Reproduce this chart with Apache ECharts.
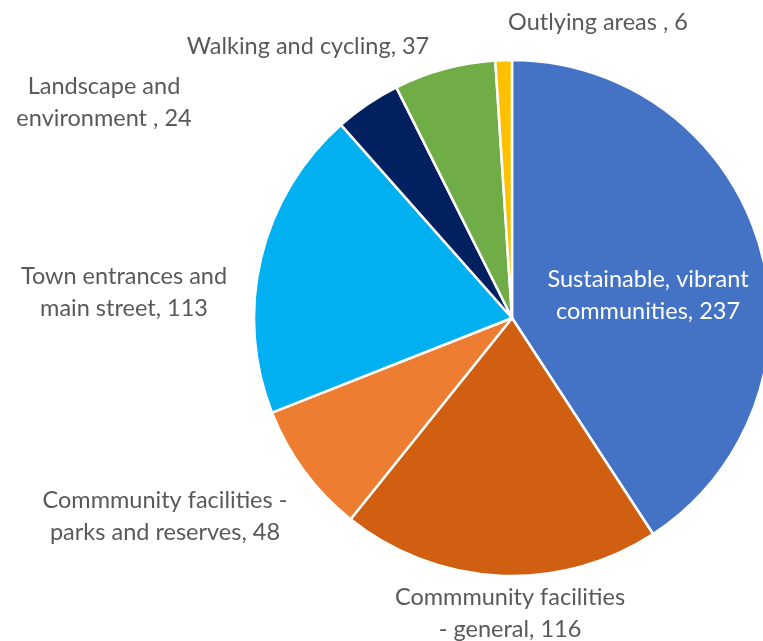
<!DOCTYPE html>
<html>
<head>
<meta charset="utf-8">
<script src="https://cdn.jsdelivr.net/npm/echarts@6/dist/echarts.min.js"></script>
<style>
html,body{margin:0;padding:0;background:#fff;}
#chart{width:763px;height:641px;}
</style>
</head>
<body>
<div id="chart"></div>
<script>
// Data
const categories = [
  "Sustainable, vibrant\ncommunities",
  "Commmunity facilities\n- general",
  "Commmunity facilities -\nparks and reserves",
  "Town entrances and\nmain street",
  "Landscape and\nenvironment ",
  "Walking and cycling",
  "Outlying areas "
];
const values = [237, 116, 48, 113, 24, 37, 6];
const colors = ["#4472C4", "#D05F12", "#ED7D31", "#00B0F0", "#002060", "#70AD47", "#FFC000"];

// Label anchor points (styling / layout only)
const labelCenters = [
  [648, 295], [510, 613], [165, 516], [124, 292], [104, 102], [308, 46], [598, 22]
];

const chart = echarts.init(document.getElementById('chart'), null, {renderer: 'canvas'});
const data = categories.map((c, i) => ({
  name: c,
  value: values[i],
  itemStyle: {color: colors[i]},
  label: i === 0 ? {color: '#ffffff', position: 'inside'} : {}
}));

chart.setOption({
  animation: false,
  series: [{
    type: 'pie',
    center: [512, 318],
    radius: [0, 258],
    startAngle: 90,
    clockwise: true,
    avoidLabelOverlap: false,
    data: data,
    itemStyle: {borderColor: '#ffffff', borderWidth: 2.5},
    label: {
      show: true,
      position: 'outside',
      formatter: p => p.name + ', ' + p.value,
      fontFamily: 'Lato',
      fontSize: 23.5,
      lineHeight: 32,
      color: '#595959',
      align: 'center'
    },
    labelLine: {show: false},
    labelLayout: function (params) {
      const c = labelCenters[params.dataIndex];
      return {x: c[0], y: c[1], align: 'center', verticalAlign: 'middle'};
    }
  }]
});
</script>
</body>
</html>
